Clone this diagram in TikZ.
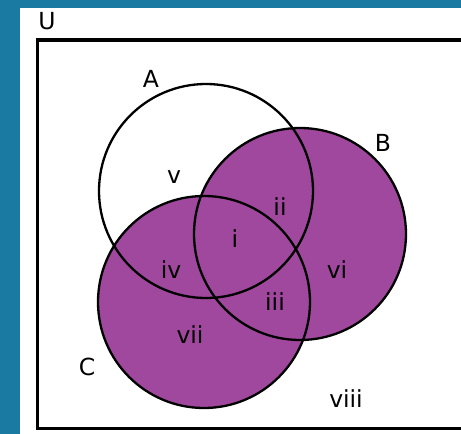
\documentclass[tikz,border=0pt]{standalone}
\usepackage{fontspec}
\setmainfont{DejaVu Sans}
\definecolor{bgblue}{RGB}{26,122,162}
\definecolor{vpurple}{RGB}{160,72,158}
\begin{document}
\begin{tikzpicture}[x=1pt,y=-1pt,
  lbl/.style={anchor=base,inner sep=0pt,font=\fontsize{23.5}{26}\selectfont},
  setc/.style={circle,inner sep=0pt,minimum size=#1,line width=2.3pt,draw=black}]
\useasboundingbox (0,0) rectangle (461,434);
\fill[white] (0,0) rectangle (461,434);
\fill[bgblue] (0,0) rectangle (20,434);
\fill[bgblue] (0,0) rectangle (461,8);
\begin{scope}
\clip (0,0) rectangle (461,434);
\draw[line width=3.2pt] (37.5,40) rectangle (475,428.5);
\end{scope}
% filled sets B and C
\node[setc=212pt,fill=vpurple,draw=none] (Bf) at (300,234) {};
\node[setc=212pt,fill=vpurple,draw=none] (Cf) at (204,302) {};
% outlines
\node[setc=214pt] (A) at (206,191) {};
\node[setc=212pt] (B) at (300,234) {};
\node[setc=212pt] (C) at (204,302) {};
% labels
\node[lbl] (lU) at (47,29) {U};
\node[lbl] (lA) at (151,87) {A};
\node[lbl] (lB) at (383,151) {B};
\node[lbl] (lC) at (87,375) {C};
\node[lbl] (l1) at (235,247) {i};
\node[lbl] (l2) at (280,215) {ii};
\node[lbl] (l3) at (275,310) {iii};
\node[lbl] (l4) at (171,278) {iv};
\node[lbl] (l5) at (174,183) {v};
\node[lbl] (l6) at (337,278) {vi};
\node[lbl] (l7) at (190,343) {vii};
\node[lbl] (l8) at (346,407) {viii};
\end{tikzpicture}
\end{document}
